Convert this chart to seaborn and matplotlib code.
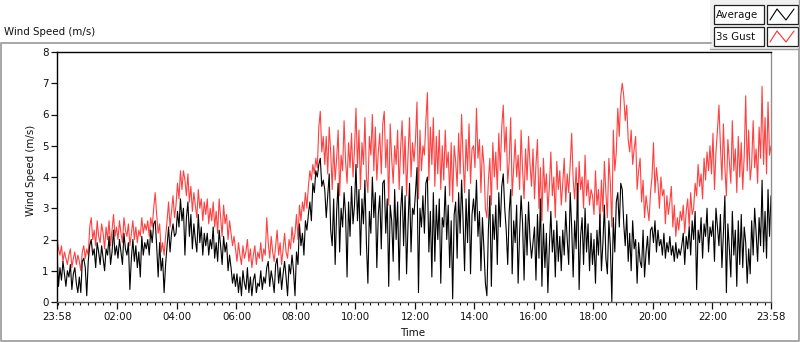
import numpy as np
import pandas as pd
import matplotlib
matplotlib.use("Agg")
import matplotlib.pyplot as plt
from matplotlib.patches import Rectangle
from matplotlib.lines import Line2D
from matplotlib.ticker import FixedLocator
import seaborn as sns

# ---------------- data (3-minute samples, starting 23:58; one row per hour) ----------------
sample_minutes = 3
gust = [
    2.1, 1.7, 1.5, 1.8, 1.3, 1.6, 1.4, 1.2, 1.5, 1.7, 1.1, 1.4, 1.6, 1.2, 1.5, 1.3, 1.0, 1.6, 1.8, 1.4,
    1.7, 1.5, 2.4, 2.7, 2.0, 2.3, 1.8, 2.6, 2.1, 1.9, 2.5, 2.2, 1.7, 2.4, 2.0, 2.6, 1.8, 2.3, 2.8, 2.1,
    2.4, 2.0, 2.6, 2.2, 1.9, 2.7, 2.3, 2.1, 2.5, 1.8, 2.2, 2.6, 2.0, 2.4, 1.9, 2.3, 2.1, 2.7, 2.2, 2.5,
    2.3, 2.6, 2.1, 2.7, 2.4, 3.0, 3.5, 2.8, 2.2, 2.5, 1.6, 1.9, 1.5, 2.1, 2.6, 3.2, 2.4, 2.9, 3.4, 2.7,
    3.1, 3.8, 3.3, 4.2, 3.6, 4.2, 3.9, 3.4, 4.1, 3.2, 3.7, 2.9, 3.5, 3.1, 2.7, 3.6, 3.0, 3.3, 2.6, 3.2,
    2.8, 3.3, 2.5, 3.0, 2.6, 3.2, 2.4, 2.9, 2.2, 3.3, 2.7, 2.1, 3.1, 2.5, 2.8, 2.0, 2.6, 2.2, 1.8, 2.1,
    1.7, 1.3, 1.9, 1.5, 1.2, 1.8, 1.4, 1.6, 2.0, 1.3, 1.7, 1.1, 1.5, 1.8, 1.2, 1.6, 1.4, 1.9, 1.3, 1.7,
    1.5, 2.7, 1.9, 1.4, 2.1, 1.6, 1.3, 1.8, 2.3, 1.5, 1.9, 1.2, 1.7, 2.2, 1.6, 1.4, 2.0, 1.7, 2.4, 1.9,
    2.2, 2.8, 2.0, 3.1, 2.6, 3.2, 2.9, 3.5, 3.0, 3.7, 4.2, 3.9, 4.4, 4.1, 4.6, 4.3, 5.6, 6.1, 4.8, 5.3,
    4.4, 5.3, 4.1, 5.6, 4.8, 3.6, 5.0, 3.9, 4.6, 5.5, 3.4, 4.7, 4.2, 5.8, 4.5, 3.8, 5.1, 4.3, 5.4, 4.0,
    4.9, 6.2, 4.3, 5.5, 3.6, 5.1, 4.4, 5.9, 4.0, 3.5, 5.3, 4.7, 6.0, 4.2, 5.6, 3.9, 4.8, 5.4, 4.1, 5.7,
    6.1, 4.3, 5.2, 3.1, 5.7, 4.6, 3.8, 5.0, 4.4, 5.5, 3.6, 4.9, 5.8, 4.1, 5.3, 3.4, 4.7, 5.9, 4.0, 5.1,
    4.5, 5.2, 6.4, 3.3, 5.5, 4.2, 5.0, 4.7, 5.8, 6.7, 3.9, 5.6, 4.4, 5.9, 3.7, 5.3, 4.1, 5.5, 3.6, 5.0,
    3.9, 5.5, 4.3, 4.8, 3.4, 5.1, 3.2, 5.0, 4.5, 3.7, 5.4, 4.1, 6.0, 4.6, 3.5, 5.2, 4.2, 5.7, 3.8, 4.9,
    5.0, 4.3, 6.2, 4.6, 5.2, 3.5, 5.0, 4.4, 3.0, 2.7, 3.9, 4.6, 3.1, 5.1, 4.0, 4.8, 3.6, 5.4, 4.2, 5.6,
    6.3, 4.8, 5.6, 3.8, 4.5, 5.9, 3.4, 4.3, 5.2, 4.0, 4.7, 3.6, 5.5, 4.2, 3.3, 4.9, 3.9, 5.3, 4.4, 3.7,
    4.9, 3.3, 4.4, 5.2, 3.0, 4.3, 2.6, 4.6, 3.5, 4.1, 2.9, 3.7, 4.8, 3.4, 4.0, 2.7, 4.5, 3.6, 4.2, 3.1,
    3.8, 4.6, 3.2, 4.1, 3.5, 4.4, 5.4, 3.9, 3.3, 4.3, 2.9, 4.5, 3.6, 4.0, 3.0, 4.7, 3.4, 3.9, 3.1, 3.6,
    3.4, 2.8, 4.2, 3.1, 3.6, 2.5, 3.9, 2.9, 4.5, 3.5, 2.7, 4.6, 3.8, 2.4, 5.5, 4.2, 4.8, 6.2, 5.3, 6.6,
    7.0, 6.6, 5.8, 6.3, 5.2, 4.8, 5.5, 4.4, 4.9, 5.3, 3.6, 4.2, 4.6, 3.2, 3.9, 2.7, 3.4, 3.0, 2.6, 3.5,
    4.0, 5.1, 3.5, 4.3, 3.8, 3.0, 4.0, 3.4, 3.6, 2.5, 3.4, 2.8, 3.2, 3.7, 2.4, 3.1, 2.1, 2.7, 2.3, 2.9,
    2.6, 3.1, 2.2, 2.9, 3.3, 2.4, 3.5, 2.8, 3.0, 3.8, 3.4, 4.4, 3.7, 4.1, 3.3, 4.6, 3.9, 4.8, 4.2, 5.0,
    4.1, 5.4, 3.6, 4.8, 5.5, 6.3, 5.0, 3.9, 5.7, 4.3, 3.4, 5.2, 4.5, 3.8, 5.8, 4.2, 4.9, 3.5, 5.3, 4.0,
    5.1, 3.6, 4.7, 6.6, 4.2, 5.5, 3.9, 4.4, 5.8, 4.3, 4.9, 3.8, 5.6, 4.6, 6.9, 4.4, 5.9, 4.1, 6.4, 4.7,
    5.0,
]
average = [
    1.6, 0.5, 1.1, 0.7, 1.3, 0.9, 0.5, 1.0, 0.8, 1.2, 0.4, 0.9, 1.1, 0.6, 0.3, 0.8, 0.3, 1.3, 1.4, 1.1,
    0.2, 1.3, 1.8, 2.0, 1.5, 1.7, 1.1, 1.9, 1.6, 1.2, 1.8, 1.4, 1.0, 1.7, 1.5, 2.1, 1.2, 1.6, 2.3, 1.5,
    1.8, 1.4, 2.0, 1.6, 1.2, 2.2, 1.7, 1.5, 1.9, 0.4, 1.4, 2.0, 1.3, 1.8, 1.1, 1.6, 0.8, 2.1, 1.5, 1.9,
    1.7, 2.0, 1.5, 2.3, 1.9, 2.5, 2.6, 1.8, 0.8, 1.9, 1.0, 1.4, 0.3, 1.2, 1.8, 2.4, 1.6, 2.2, 2.5, 2.1,
    2.2, 2.9, 2.4, 3.3, 2.6, 3.0, 1.5, 2.7, 3.2, 2.1, 2.8, 1.7, 2.5, 2.0, 1.6, 2.8, 1.9, 2.4, 1.5, 2.2,
    1.8, 2.2, 1.5, 2.0, 1.7, 2.4, 1.4, 1.9, 1.3, 2.3, 1.8, 1.2, 2.1, 1.6, 1.9, 1.0, 1.5, 1.1, 0.6, 0.9,
    0.5, 0.9, 0.3, 0.8, 0.2, 1.0, 0.6, 0.4, 1.1, 0.3, 0.8, 0.2, 0.7, 0.9, 0.3, 0.6, 0.5, 1.0, 0.4, 0.8,
    0.6, 1.1, 1.3, 0.5, 1.0, 0.7, 0.3, 1.2, 1.4, 0.6, 1.1, 0.4, 0.9, 1.3, 0.8, 0.2, 1.2, 0.9, 1.5, 1.0,
    0.2, 1.6, 1.2, 2.5, 1.8, 2.2, 1.5, 2.6, 2.3, 2.8, 3.2, 2.6, 3.8, 3.5, 4.2, 4.0, 4.4, 4.6, 3.7, 3.9,
    3.6, 2.7, 3.4, 4.1, 2.3, 1.8, 3.3, 1.2, 2.9, 3.8, 1.6, 3.0, 2.4, 3.5, 2.8, 0.8, 3.2, 2.1, 3.7, 2.5,
    3.1, 4.4, 2.6, 3.6, 1.5, 3.3, 2.5, 3.9, 1.9, 0.6, 2.9, 2.2, 4.0, 2.7, 3.5, 1.1, 2.8, 3.4, 1.7, 3.8,
    3.9, 2.2, 3.3, 0.5, 3.1, 2.6, 1.3, 3.6, 2.0, 3.2, 0.7, 2.9, 3.7, 1.8, 3.4, 0.9, 2.5, 3.8, 1.6, 3.0,
    2.8, 3.5, 4.3, 0.3, 3.0, 2.4, 3.4, 2.2, 3.8, 4.0, 1.6, 2.9, 0.8, 3.5, 1.3, 3.1, 2.0, 3.3, 0.6, 2.7,
    2.4, 3.7, 2.0, 3.1, 1.1, 2.6, 0.1, 2.8, 3.2, 1.4, 3.5, 2.2, 3.9, 2.6, 1.0, 3.3, 1.9, 3.6, 0.9, 2.8,
    3.3, 2.6, 3.9, 2.1, 2.9, 1.0, 2.7, 1.7, 0.6, 0.2, 2.3, 3.4, 0.5, 2.8, 2.0, 3.1, 1.2, 3.5, 2.4, 3.7,
    4.1, 3.0, 2.3, 1.2, 2.9, 3.6, 0.9, 2.6, 1.9, 3.1, 0.6, 2.2, 3.4, 2.5, 0.7, 2.8, 1.5, 3.2, 2.0, 1.4,
    1.9, 2.4, 0.7, 2.8, 1.4, 3.3, 0.5, 2.5, 1.1, 2.2, 0.3, 1.8, 2.9, 1.6, 2.3, 0.8, 2.6, 1.3, 2.1, 1.0,
    2.3, 1.5, 2.9, 2.0, 1.2, 3.5, 2.4, 0.8, 2.6, 1.7, 3.8, 0.4, 2.1, 2.7, 1.2, 3.0, 1.6, 2.5, 1.0, 2.2,
    1.2, 2.0, 0.6, 2.3, 1.5, 2.8, 1.0, 1.9, 3.1, 1.4, 0.9, 2.6, 1.8, 0.0, 2.7, 1.6, 3.2, 3.5, 2.4, 3.8,
    3.6, 2.5, 1.8, 2.8, 1.3, 2.2, 1.0, 2.6, 1.7, 2.0, 0.6, 1.9, 1.3, 1.1, 2.3, 0.8, 1.6, 2.1, 1.2, 2.3,
    2.4, 1.9, 2.6, 1.6, 2.3, 1.8, 2.0, 1.5, 2.2, 1.4, 1.9, 1.6, 2.1, 1.5, 1.8, 1.3, 1.9, 1.4, 1.7, 1.5,
    1.8, 2.2, 1.2, 2.1, 1.7, 2.4, 1.5, 2.6, 2.0, 2.9, 0.4, 2.3, 1.9, 2.7, 1.4, 2.5, 2.1, 3.0, 1.6, 2.4,
    2.1, 2.6, 1.3, 3.0, 2.4, 1.8, 2.8, 1.1, 2.2, 3.4, 0.3, 2.5, 1.7, 0.8, 2.9, 1.5, 2.3, 0.5, 2.6, 1.2,
    2.8, 1.1, 2.4, 1.9, 0.6, 1.7, 0.9, 2.6, 1.5, 3.0, 2.2, 1.3, 2.7, 1.8, 3.9, 1.6, 2.9, 1.4, 3.6, 2.1,
    3.4,
]
tick_labels = ["23:58", "02:00", "04:00", "06:00", "08:00", "10:00", "12:00",
               "14:00", "16:00", "18:00", "20:00", "22:00", "23:58"]
series_names = ["Average", "3s Gust"]
y_ticks = [0, 1, 2, 3, 4, 5, 6, 7, 8]

n = min(len(gust), len(average))
gust = gust[:n]
average = average[:n]

# ---------------- figure ----------------
W, H = 800, 342
sns.set_theme(style="white")
plt.rcParams["font.family"] = ["DejaVu Sans"]
fig = plt.figure(figsize=(W / 100, H / 100), dpi=100)
fig.patch.set_facecolor("white")

def fx(x):
    return x / W

def fy(y):
    return 1 - y / H

hours = np.arange(n) * sample_minutes / 60.0
df = pd.DataFrame({"hours": hours, "gust": gust, "average": average})

ax = fig.add_axes([fx(57), fy(302), (771 - 57) / W, 250 / H])
ax.set_facecolor("white")
sns.lineplot(data=df, x="hours", y="gust", color="#ff4040", lw=0.8, ax=ax, estimator=None)
sns.lineplot(data=df, x="hours", y="average", color="black", lw=0.8, ax=ax, estimator=None)

ax.set_xlim(0, 24)
ax.set_ylim(0, 8)
ax.set_xlabel("")
ax.set_ylabel("")

major = [0] + [2 * k + 2 / 60 for k in range(1, 12)] + [24]
ax.xaxis.set_major_locator(FixedLocator(major))
ax.set_xticklabels(tick_labels)
minor = [m / 60 + 2 / 60 for m in range(0, 24 * 60, 15)]
minor = [m for m in minor if 0 < m < 24]
ax.xaxis.set_minor_locator(FixedLocator(minor))
ax.set_yticks(y_ticks)
ax.set_yticklabels([str(v) for v in y_ticks])

ax.tick_params(axis="both", which="major", labelsize=7.4, colors="#111111",
               direction="out", length=4, width=0.9, pad=2)
ax.tick_params(axis="x", which="major", length=5, bottom=True)
ax.tick_params(axis="x", which="minor", length=2.5, width=0.8, bottom=True, color="#111111")
ax.tick_params(axis="y", left=True)

for side in ["top", "left"]:
    ax.spines[side].set_color("black")
    ax.spines[side].set_linewidth(1.0)
ax.spines["bottom"].set_color("#606060")
ax.spines["bottom"].set_linewidth(1.0)
ax.spines["right"].set_color("#909090")
ax.spines["right"].set_linewidth(1.0)
ax.grid(False)

# axis labels
fig.text(fx(31), fy(170), "Wind Speed (m/s)", rotation=90, ha="center", va="center",
         fontsize=7.4, color="#111111")
fig.text(fx(413), fy(333), "Time", ha="center", va="center", fontsize=7.4, color="#111111")

# title
fig.text(fx(4), fy(32), "Wind Speed (m/s)", ha="left", va="center", fontsize=7.4, color="#111111")

# outer frame
frame = Line2D([fx(711), fx(0.7), fx(0.7), fx(798.5), fx(798.5)],
               [fy(42.5), fy(42.5), fy(341), fy(341), fy(49)],
               transform=fig.transFigure, color="#a0a0a0", lw=1.3)
fig.add_artist(frame)

# legend panel
fig.add_artist(Rectangle((fx(710), fy(49)), 90 / W, 49 / H, transform=fig.transFigure,
                         facecolor="#f0f0f0", edgecolor="none"))
fig.add_artist(Line2D([fx(710), fx(798.5), fx(798.5)], [fy(48.5), fy(48.5), fy(0)],
                      transform=fig.transFigure, color="#a0a0a0", lw=1.0))
colors = ["black", "#ff3030"]
for i, (name, c) in enumerate(zip(series_names, colors)):
    top = 5 + 22 * i
    fig.add_artist(Rectangle((fx(713.5), fy(top + 19)), 50 / W, 19 / H, transform=fig.transFigure,
                             facecolor="white", edgecolor="#202020", lw=0.9))
    fig.text(fx(716), fy(top + 9.5), name, ha="left", va="center", fontsize=7.4, color="#111111")
    fig.add_artist(Rectangle((fx(766.5), fy(top + 19)), 31 / W, 19 / H, transform=fig.transFigure,
                             facecolor="white", edgecolor="#202020", lw=0.9))
    zx = [770, 777, 786, 794]
    zy = [top + 15, top + 4, top + 15, top + 4]
    fig.add_artist(Line2D([fx(v) for v in zx], [fy(v) for v in zy],
                          transform=fig.transFigure, color=c, lw=0.8))

fig.savefig("out.png", dpi=100)
print(len(gust), len(average))
